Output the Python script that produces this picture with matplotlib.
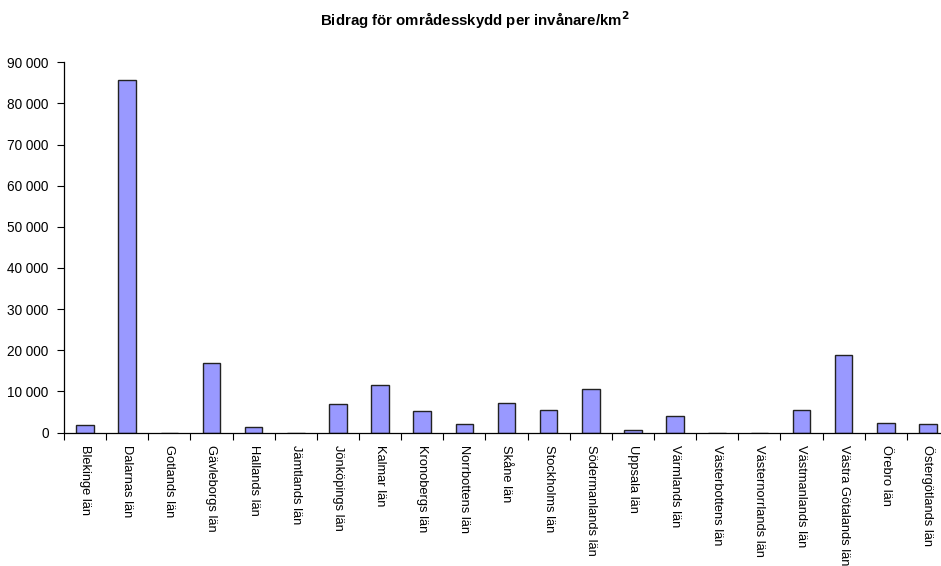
import matplotlib
matplotlib.use('Agg')
import matplotlib.pyplot as plt
from matplotlib.ticker import FuncFormatter, FixedLocator

plt.rcParams['font.family'] = ['Liberation Sans', 'DejaVu Sans']

# Data
lan = ['Blekinge län', 'Dalarnas län', 'Gotlands län', 'Gävleborgs län', 'Hallands län',
       'Jämtlands län', 'Jönköpings län', 'Kalmar län', 'Kronobergs län', 'Norrbottens län',
       'Skåne län', 'Stockholms län', 'Södermanlands län', 'Uppsala län', 'Värmlands län',
       'Västerbottens län', 'Västernorrlands län', 'Västmanlands län', 'Västra Götalands län',
       'Örebro län', 'Östergötlands län']
bidrag = [1750, 85700, 0, 16800, 1350, 0, 7000, 11600, 5150, 2000,
          7100, 5450, 10650, 700, 4100, 0, 0, 5400, 18850, 2250, 2000]

W, H = 941, 566
fig = plt.figure(figsize=(W / 100, H / 100), dpi=100)
# axes runs a little past the right edge, as in the original
ax = fig.add_axes([64 / W, (H - 432.5) / H, 885 / W, 370.2 / H])

x = list(range(len(lan)))
ax.bar(x, bidrag, width=0.42, color='#9999ff', edgecolor='#222222', linewidth=1.0)

ax.set_xlim(-0.5, len(lan) - 0.5)
ax.set_ylim(0, 90000)
ax.set_yticks(range(0, 90001, 10000))
ax.yaxis.set_major_formatter(FuncFormatter(lambda v, p: f'{int(v):,}'.replace(',', ' ')))

ax.set_xticks(x)
ax.set_xticklabels(lan, rotation=270, fontsize=9.3, va='top', ha='center')
ax.xaxis.set_minor_locator(FixedLocator([i - 0.5 for i in range(len(lan) + 1)]))
ax.tick_params(axis='x', which='major', length=0, pad=9)
ax.tick_params(axis='x', which='minor', length=5, width=0.8, direction='out')
ax.tick_params(axis='y', length=5, width=0.8, direction='out', labelsize=9.8, pad=6)

for s in ['top', 'right']:
    ax.spines[s].set_visible(False)
for s in ['left', 'bottom']:
    ax.spines[s].set_linewidth(0.9)

fig.text(475 / W, 1 - 20 / H, 'Bidrag för områdesskydd per invånare/km$^\\mathbf{2}$',
         ha='center', va='center', fontsize=10.8, fontweight='bold')

fig.savefig('out.png', dpi=100)
